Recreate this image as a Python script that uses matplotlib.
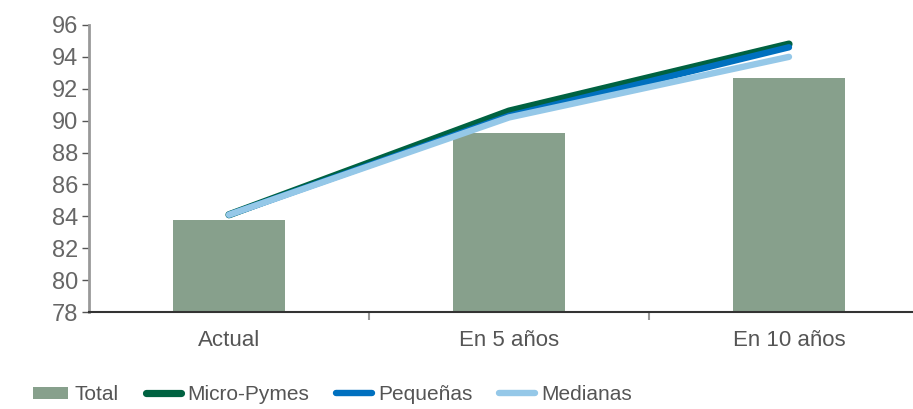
import matplotlib.pyplot as plt
import numpy as np

# Data
categories = ["Actual", "En 5 años", "En 10 años"]
total = [83.8, 89.2, 92.7]
micro_pymes = [84.1, 90.6, 94.8]
pequenas = [84.1, 90.3, 94.6]
medianas = [84.1, 90.2, 94.0]
yticks = [78, 80, 82, 84, 86, 88, 90, 92, 94, 96]

plt.rcParams['font.family'] = ['Liberation Sans', 'DejaVu Sans']

fig = plt.figure(figsize=(9.13, 4.09), dpi=100)
ax = fig.add_axes([0.0975, 0.237, 0.92, 0.702])

x = np.arange(len(categories))
ax.bar(x, [t - 78 for t in total], bottom=78, width=0.4, color="#87a08c",
       label="Total", zorder=1)

ax.plot(x, micro_pymes, color="#006241", linewidth=5.2, solid_capstyle="round",
        label="Micro-Pymes", zorder=2)
ax.plot(x, pequenas, color="#0070bf", linewidth=4.6, solid_capstyle="round",
        label="Pequeñas", zorder=3)
ax.plot(x, medianas, color="#95c8e8", linewidth=4.6, solid_capstyle="round",
        label="Medianas", zorder=4)

ax.set_xlim(-0.5, 2.5)
ax.set_ylim(78, 96)
ax.set_yticks(yticks)
ax.set_yticklabels([str(v) for v in yticks], fontsize=17, color="#666666")

# category labels centred, ticks on category boundaries
ax.set_xticks(x)
ax.set_xticklabels(categories, fontsize=16, color="#555555")
ax.tick_params(axis="x", length=0, pad=13)
ax.set_xticks([0.5, 1.5], minor=True)
ax.tick_params(axis="x", which="minor", length=6, width=1.5, color="#999999")
ax.tick_params(axis="y", length=5, width=1, color="#555555", pad=3)

for s in ["top", "right"]:
    ax.spines[s].set_visible(False)
ax.spines["left"].set_color("#999999")
ax.spines["left"].set_linewidth(2)
ax.spines["bottom"].set_color("#333333")
ax.spines["bottom"].set_linewidth(1.5)

handles, labels = ax.get_legend_handles_labels()
order = [labels.index(n) for n in ["Total", "Micro-Pymes", "Pequeñas", "Medianas"]]
fig.legend([handles[i] for i in order], [labels[i] for i in order],
           loc="center left", bbox_to_anchor=(0.036, 0.035), ncol=4,
           frameon=False, fontsize=15, handlelength=1.7, handleheight=0.55,
           columnspacing=1.3, handletextpad=0.3, borderpad=0,
           borderaxespad=0, labelcolor="#555555")

plt.savefig("out.png", dpi=100)
